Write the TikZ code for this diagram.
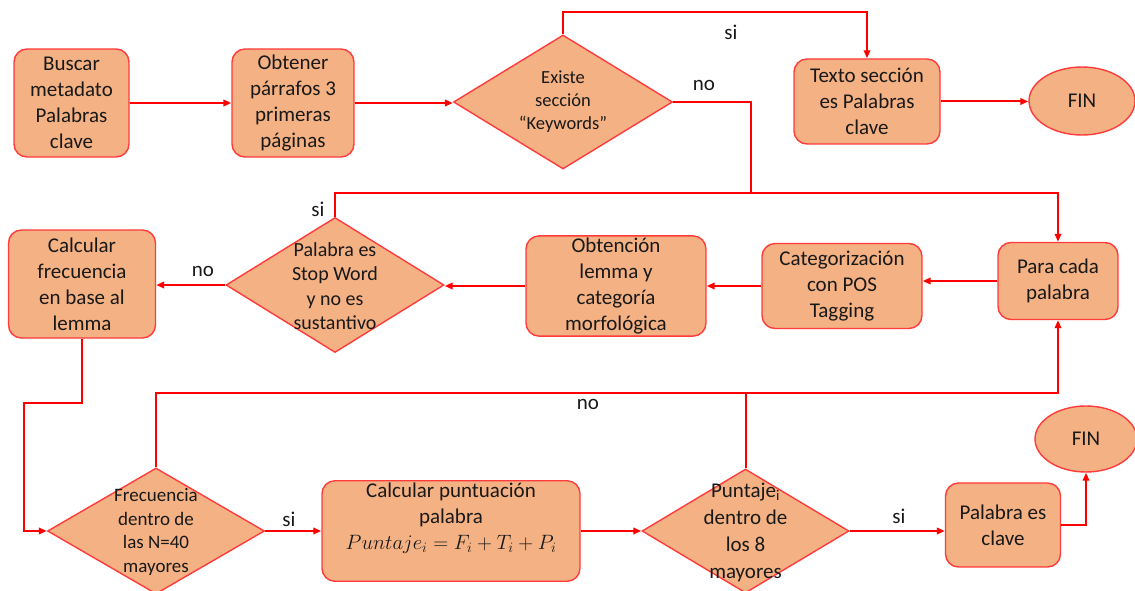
\documentclass[tikz,border=0pt]{standalone}
\usepackage{fontspec}
\setmainfont{Carlito}
\usetikzlibrary{shapes.geometric,arrows.meta}
\definecolor{boxfill}{HTML}{F4B183}
\definecolor{boxline}{HTML}{FF3B3B}
\definecolor{flow}{HTML}{FF0000}
\begin{document}
\begin{tikzpicture}[x=1pt,y=-1pt,
  proc/.style={draw=boxline,fill=boxfill,line width=1.4pt,rounded corners=13pt,
    align=center,inner sep=2pt,font=\fontsize{21}{26}\selectfont,text=black!90},
  dec/.style={diamond,draw=boxline,fill=boxfill,line width=1.4pt,inner sep=0pt},
  term/.style={ellipse,draw=boxline,fill=boxfill,line width=1.4pt,inner sep=0pt,
    font=\fontsize{21}{26}\selectfont,text=black!90},
  dtext/.style={align=center,inner sep=0pt,text=black!90},
  lbl/.style={font=\fontsize{21}{26}\selectfont,inner sep=0pt,text=black!90},
  flowline/.style={draw=flow,line width=2pt},
  arr/.style={flowline,-{Triangle[length=8pt,width=6.5pt]}}
]
\useasboundingbox (0,0) rectangle (1135,591);

% ---- first row ----
\node[proc,minimum width=115pt,minimum height=108pt] (bm) at (71.5,103) {Buscar\\metadato\\Palabras\\clave};
\node[proc,minimum width=122pt,minimum height=108pt] (op) at (293,103) {Obtener\\párrafos 3\\primeras\\páginas};
\node[dec,minimum width=219pt,minimum height=134pt] (ex) at (563,102) {};
\node[dtext,font=\fontsize{18.5}{23}\selectfont] (ext) at (563,102) {Existe\\sección\\“Keywords”};
\node[proc,minimum width=146pt,minimum height=85pt] (tx) at (867,101.5) {Texto sección\\es Palabras\\clave};
\node[term,minimum width=106pt,minimum height=68pt] (f1) at (1082,101) {FIN};

% ---- second row ----
\node[proc,minimum width=120pt,minimum height=77pt] (pa) at (1058,281) {Para cada\\palabra};
\node[proc,minimum width=160pt,minimum height=85pt] (ca) at (842,286) {Categorización\\con POS\\Tagging};
\node[proc,minimum width=180pt,minimum height=96pt] (ob) at (616,286) {Obtención\\lemma y\\categoría\\morfológica};
\node[dec,minimum width=218pt,minimum height=135pt] (sw) at (335,285) {};
\node[dtext,font=\fontsize{20}{24.5}\selectfont] (swt) at (335,286) {Palabra es\\Stop Word\\y no es\\sustantivo};
\node[proc,minimum width=147pt,minimum height=108pt] (cf) at (82,284) {Calcular\\frecuencia\\en base al\\lemma};

% ---- third row ----
\node[dec,minimum width=217pt,minimum height=126pt] (fd) at (156,531) {};
\node[dtext,font=\fontsize{19}{23.5}\selectfont] (fdt) at (156,532) {Frecuencia\\dentro de\\las N=40\\mayores};
\node[proc,minimum width=258pt,minimum height=98pt] (cp) at (451,531)
  {Calcular puntuación\\palabra\\$Puntaje_i=F_i+T_i+P_i$\\[4pt]};
\node[dec,minimum width=207pt,minimum height=124pt] (pd) at (745.5,531) {};
\node[dtext,font=\fontsize{21}{27}\selectfont] (pdt) at (745.5,532) {Puntaje\textsubscript{i}\\dentro de\\los 8\\mayores};
\node[proc,minimum width=115pt,minimum height=84pt] (pl) at (1003,525) {Palabra es\\clave};
\node[term,minimum width=102pt,minimum height=66pt] (f2) at (1086,439) {FIN};

% ---- routing levels ----
\coordinate (topY) at (0,12);
\coordinate (midY) at (0,193);
\coordinate (lowY) at (0,393);
\coordinate (noX) at (751,0);
\coordinate (ret) at (24,403);

% ---- connectors ----
\draw[arr] (bm.east) -- (bm.east -| op.west);
\draw[arr] (op.east) -- (op.east -| ex.west);
\draw[arr] (ex.north) -- (ex.north |- topY) -| (tx.north);
\draw[arr] (tx.east) -- (tx.east -| f1.west);
\draw[flowline] (ex.east) -| (noX |- midY);
\draw[arr] (sw.north) -- (sw.north |- midY) -| (pa.north);
\draw[arr] (pa.west) -- (pa.west -| ca.east);
\draw[arr] (ca.west) -- (ca.west -| ob.east);
\draw[arr] (ob.west) -- (ob.west -| sw.east);
\draw[arr] (sw.west) -- (sw.west -| cf.east);
\draw[arr] (cf.south) -- (cf.south |- ret) -- (ret) |- (fd.west);
\draw[arr] (fd.north) -- (fd.north |- lowY) -| (pa.south);
\draw[flowline] (pd.north) -- (pd.north |- lowY);
\draw[arr] (fd.east) -- (cp.west);
\draw[arr] (cp.east) -- (pd.west);
\draw[arr] (pd.east) -- (pd.east -| pl.west);
\draw[arr] (pl.east) -| (f2.south);

% ---- branch labels ----
\node[lbl] (l1) at (731,32) {si};
\node[lbl] (l2) at (704,85) {no};
\node[lbl] (l3) at (318,209) {si};
\node[lbl] (l4) at (203,271) {no};
\node[lbl] (l5) at (588,404) {no};
\node[lbl] (l6) at (289,519) {si};
\node[lbl] (l7) at (899,516) {si};
\end{tikzpicture}
\end{document}
